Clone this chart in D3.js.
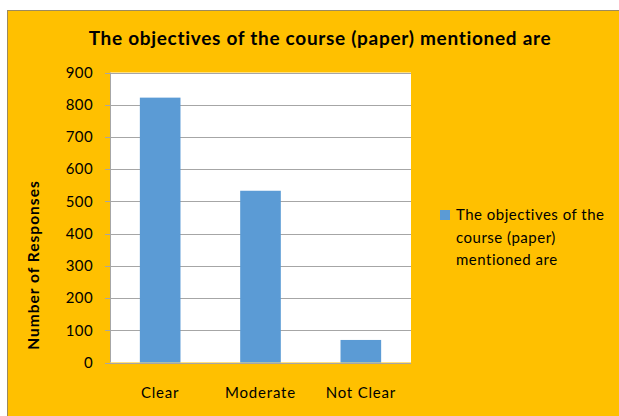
<!DOCTYPE html>
<html>
<head>
<meta charset="utf-8">
<script src="https://cdn.jsdelivr.net/npm/d3@7"></script>
<style>
  body { margin: 0; background: #fff; }
  text { font-family: Lato, "Open Sans", sans-serif; fill: #000; }
</style>
</head>
<body>
<svg id="chart"></svg>
<script>
// chart data
const categories = ['Clear', 'Moderate', 'Not Clear'];
const responses = [822, 533, 70];
const yTicks = [0, 100, 200, 300, 400, 500, 600, 700, 800, 900];
const chartTitle = 'The objectives of the course (paper) mentioned are';
const yTitle = 'Number of Responses';
const legendLines = ['The objectives of the', 'course (paper)', 'mentioned are'];

const width = 619;
const height = 416;
const plot = { left: 110, right: 411, top: 72.5, bottom: 362.5 };

const svg = d3.select('#chart')
  .attr('width', width)
  .attr('height', height);

// orange chart background with thin border
svg.append('rect')
  .attr('x', 7.5).attr('y', 10.5)
  .attr('width', width + 10).attr('height', height + 10)
  .attr('fill', '#FFC000')
  .attr('stroke', '#9c8a5e')
  .attr('stroke-width', 1);

// plot area
svg.append('rect')
  .attr('x', plot.left).attr('y', plot.top)
  .attr('width', plot.right - plot.left).attr('height', plot.bottom - plot.top)
  .attr('fill', '#fff');

const x = d3.scaleBand()
  .domain(categories)
  .range([plot.left, plot.right])
  .paddingInner(0.595)
  .paddingOuter(0.2975);

const y = d3.scaleLinear()
  .domain([0, 900])
  .range([plot.bottom, plot.top]);

// gridlines
svg.append('g')
  .selectAll('line')
  .data(yTicks)
  .join('line')
  .attr('x1', plot.left - 5)
  .attr('x2', plot.right)
  .attr('y1', d => Math.round(y(d)) + 0.5)
  .attr('y2', d => Math.round(y(d)) + 0.5)
  .attr('stroke', '#a6a6a6')
  .attr('stroke-width', 1);

// y axis line
svg.append('line')
  .attr('x1', plot.left + 0.5).attr('x2', plot.left + 0.5)
  .attr('y1', plot.top).attr('y2', plot.bottom)
  .attr('stroke', '#a6a6a6');

// bars
svg.append('g')
  .selectAll('rect')
  .data(responses)
  .join('rect')
  .attr('x', (d, i) => x(categories[i]))
  .attr('y', d => y(d))
  .attr('width', x.bandwidth())
  .attr('height', d => y(0) - y(d))
  .attr('fill', '#5B9BD5');

// y tick labels
svg.append('g')
  .selectAll('text')
  .data(yTicks)
  .join('text')
  .attr('x', 93)
  .attr('y', d => y(d))
  .attr('dy', '0.35em')
  .attr('text-anchor', 'end')
  .style('font-size', '15px')
  .style('letter-spacing', '0.4px')
  .text(d => d);

// x labels
svg.append('g')
  .selectAll('text')
  .data(categories)
  .join('text')
  .attr('x', d => x(d) + x.bandwidth() / 2)
  .attr('y', 393)
  .attr('dy', '0.35em')
  .attr('text-anchor', 'middle')
  .style('font-size', '15px')
  .style('letter-spacing', '0.8px')
  .text(d => d);

// title
svg.append('text')
  .attr('x', 320)
  .attr('y', 38)
  .attr('dy', '0.35em')
  .attr('text-anchor', 'middle')
  .style('font-size', '19px')
  .style('font-weight', 'bold')
  .style('letter-spacing', '0.7px')
  .text(chartTitle);

// y axis title
svg.append('text')
  .attr('transform', 'translate(34,265) rotate(-90)')
  .attr('dy', '0.35em')
  .attr('text-anchor', 'middle')
  .style('font-size', '15.5px')
  .style('font-weight', 'bold')
  .style('letter-spacing', '1px')
  .text(yTitle);

// legend
svg.append('rect')
  .attr('x', 440).attr('y', 210)
  .attr('width', 10).attr('height', 10)
  .attr('fill', '#5B9BD5');

svg.append('g')
  .selectAll('text')
  .data(legendLines)
  .join('text')
  .attr('x', 456)
  .attr('y', (d, i) => 215 + i * 22.5)
  .attr('dy', '0.35em')
  .style('font-size', '15px')
  .style('letter-spacing', '0.5px')
  .text(d => d);
</script>
</body>
</html>
